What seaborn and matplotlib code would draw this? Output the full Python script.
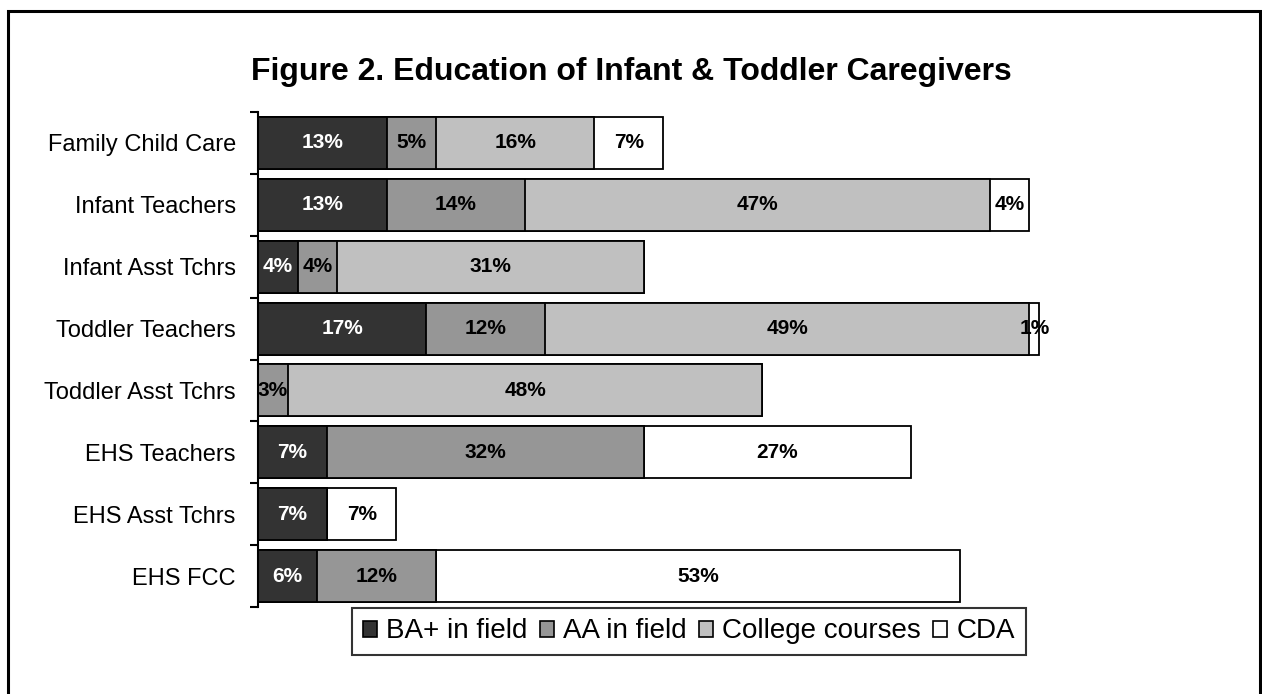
import matplotlib
matplotlib.use("Agg")
import matplotlib.pyplot as plt
from matplotlib.patches import Rectangle, Patch
import seaborn as sns
import pandas as pd
import numpy as np

categories = ["Family Child Care", "Infant Teachers", "Infant Asst Tchrs",
              "Toddler Teachers", "Toddler Asst Tchrs", "EHS Teachers",
              "EHS Asst Tchrs", "EHS FCC"]
series_names = ["BA+ in field", "AA in field", "College courses", "CDA"]
ba_plus = [13, 13, 4, 17, 0, 7, 7, 6]
aa_field = [5, 14, 4, 12, 3, 32, 0, 12]
college = [16, 47, 31, 49, 48, 0, 0, 0]
cda = [7, 4, 0, 1, 0, 27, 7, 53]
colors = ["#333333", "#969696", "#c0c0c0", "#ffffff"]
label_colors = ["white", "black", "black", "black"]
title = "Figure 2. Education of Infant & Toddler Caregivers"

sns.set_style("white")
plt.rcParams["font.family"] = ["Liberation Sans", "DejaVu Sans"]
plt.rcParams["text.color"] = "black"
plt.rcParams["ytick.color"] = "black"
plt.rcParams["ytick.labelcolor"] = "black"

W, H = 1262, 694
fig = plt.figure(figsize=(W / 100, H / 100), dpi=100)
ax_left, ax_right, ax_top, ax_bot = 258, 1247, 112, 607
ax = fig.add_axes([ax_left / W, 1 - ax_bot / H, (ax_right - ax_left) / W, (ax_bot - ax_top) / H])

series = [ba_plus, aa_field, college, cda]
df = pd.DataFrame({"category": categories})
cum = np.zeros(len(categories))
starts = []
for name, vals in zip(series_names, series):
    starts.append(cum.copy())
    cum = cum + np.array(vals, dtype=float)
    df[name] = cum.copy()

# draw cumulative layers back to front
for name, col in reversed(list(zip(series_names, colors))):
    sns.barplot(data=df, x=name, y="category", orient="h", color=col,
                saturation=1, edgecolor="black", linewidth=1.3, width=0.84,
                errorbar=None, ax=ax, order=categories)

# segment labels
for k, (vals, st) in enumerate(zip(series, starts)):
    for i, v in enumerate(vals):
        if v > 0:
            ax.text(st[i] + v / 2, i, f"{v}%", ha="center", va="center",
                    fontsize=15, fontweight="bold", color=label_colors[k])

ax.set_xlim(0, 100)
ax.set_ylim(len(categories) - 0.5, -0.5)
ax.set_xlabel("")
ax.set_ylabel("")
ax.xaxis.set_visible(False)
for s in ["top", "right", "bottom"]:
    ax.spines[s].set_visible(False)
ax.spines["left"].set_color("black")
ax.spines["left"].set_linewidth(1.5)
ax.set_yticks(range(len(categories)))
ax.set_yticklabels(categories, fontsize=17, color="black")
ax.tick_params(axis="y", which="major", left=False, length=0, pad=16)
ax.set_yticks(np.arange(-0.5, len(categories)), minor=True)
ax.tick_params(axis="y", which="minor", left=True, length=6, width=1.5,
               color="black", direction="out")

# legend
handles = [Patch(facecolor=c, edgecolor="black", linewidth=1.2) for c in colors]
leg = fig.legend(handles, series_names, loc="center", bbox_to_anchor=(689 / W, 1 - 631.5 / H),
                 ncol=4, fontsize=20, frameon=True, fancybox=False,
                 handlelength=0.5, handleheight=0.5, handletextpad=0.33,
                 columnspacing=0.45, borderpad=0.38, borderaxespad=0,
                 edgecolor="black")
leg.get_frame().set_linewidth(1.5)
for t in leg.get_texts():
    t.set_color("black")

# title
fig.text(0.5, 1 - 80 / H, title, ha="center", va="baseline", fontsize=23,
         fontweight="bold", color="black")

# outer border
fig.add_artist(Rectangle((8 / W, -0.05), (1260 - 8) / W, 1.05 - 11 / H, transform=fig.transFigure,
                         fill=False, edgecolor="black", linewidth=2.2))

fig.savefig("out.png", dpi=100)
